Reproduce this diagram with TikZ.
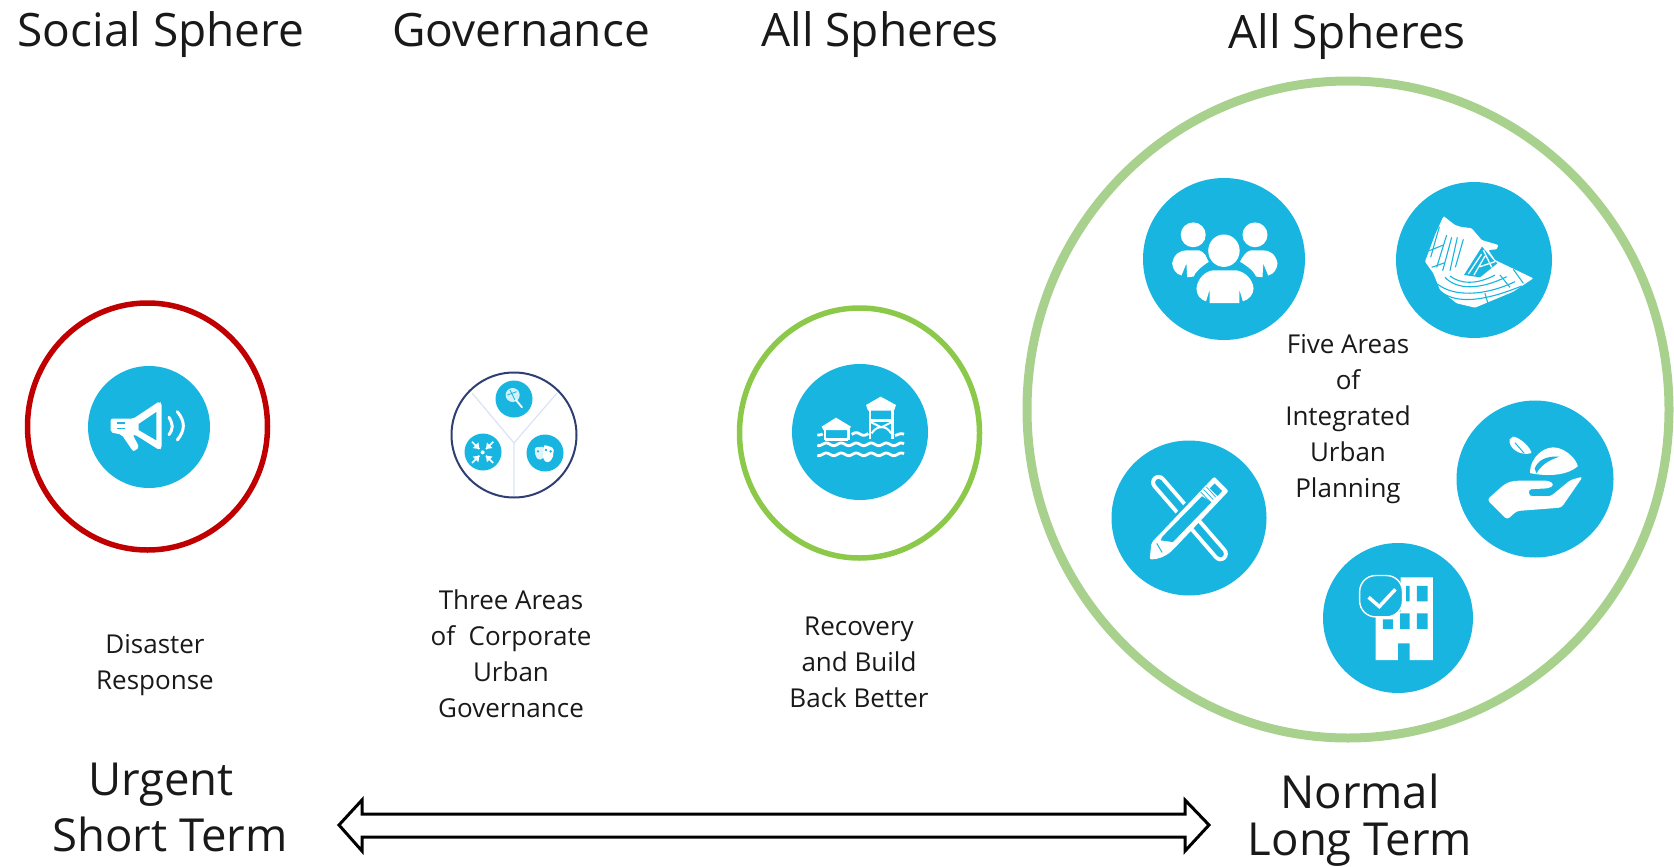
\documentclass[tikz,border=0pt]{standalone}
\usepackage{fontspec}
\setmainfont{Open Sans}
\usetikzlibrary{shapes.geometric}
\definecolor{skyb}{HTML}{17B5E0}
\definecolor{redr}{HTML}{C00000}
\definecolor{limeg}{HTML}{8CC94A}
\definecolor{paleg}{HTML}{A9D18E}
\definecolor{navyr}{HTML}{2F3F73}
\definecolor{palel}{HTML}{DAE3F3}
\tikzset{
 disc/.style={circle,fill=skyb,inner sep=0pt,minimum size=#1},
 ringc/.style={ellipse,draw=#1,line width=5.5pt,inner sep=0pt},
 headt/.style={font=\fontsize{46}{50}\selectfont,text=black!90,inner sep=0pt,anchor=base},
 smallt/.style={font=\fontsize{26}{36}\selectfont,align=center,text=black!90,inner sep=0pt},
 bigt/.style={font=\fontsize{45.5}{56.5}\selectfont,text=black!90,inner sep=0pt,anchor=base},
 zone/.style={shift={(1090,160)},x=0.35714pt,y=-0.34483pt},
 zoomt/.style={x=0.33333pt,y=-0.33333pt}
}
\begin{document}
\begin{tikzpicture}[x=1pt,y=-1pt]
\useasboundingbox (0,0) rectangle (1674,867);
% headers
\node[headt] (h1) at (161,47) {Social Sphere};
\node[headt] (h2) at (521,47) {Governance};
\node[headt] (h3) at (880,47) {All Spheres};
\node[headt] (h4) at (1347,49) {All Spheres};
% rings
\node[ringc=redr,minimum width=240pt,minimum height=247pt] (r1) at (147.5,426.5) {};
\node[ringc=limeg,minimum width=240pt,minimum height=250pt] (r3) at (859.5,433) {};
\node[ellipse,draw=paleg,line width=9pt,inner sep=0pt,minimum width=642pt,minimum height=657pt] (r4) at (1348,409.5) {};
% megaphone
\node[disc=122pt] (d1) at (149,427) {};
\begin{scope}[shift={(70,350)},zoomt]
 \fill[white,rounded corners=2pt] (122,206)--(190,206)--(268,154)--(275,160)--(275,295)--(268,300)--(195,254)--(188,254)--(208,292)--(190,305)--(155,254)--(122,247)--cycle;
 \fill[skyb] (206,222)--(259,186)--(259,271)--(206,240)--cycle;
 \draw[skyb,line width=1.2pt] (140,219)--(165,219) (140,235)--(165,235);
 \draw[white,line width=3pt,line cap=round] (297,202) .. controls (310,225) and (310,235) .. (297,254);
 \draw[white,line width=3pt,line cap=round] (322,185) .. controls (346,215) and (346,240) .. (322,270);
\end{scope}
% governance
\node[circle,draw=navyr,line width=2pt,inner sep=0pt,minimum size=125pt] (r2) at (514,435) {};
\coordinate (yc) at (514,443);
\coordinate (ya) at (472,393);
\coordinate (yb) at (557,393);
\coordinate (yd) at (514,496);
\draw[palel,line width=1.2pt] (ya)--(yc)--(yb) (yc)--(yd);
\node[disc=37pt] (s1) at (514,399) {};
\node[disc=37pt] (s2) at (483,452) {};
\node[disc=37pt] (s3) at (545,453) {};
\begin{scope}[shift={(420,350)},zoomt]
 \fill[white!80!skyb] (278,135) circle (7pt);
 \draw[skyb,line width=.8pt] (262,135)--(290,125) (270,120)--(285,150);
 \draw[white,line width=1.8pt,line cap=round] (288,150)--(306,172);
 \foreach \a in {45,135,225,315}{
  \draw[white,line width=1.6pt,shift={(188,307)}] (\a:14)--(\a:45);
  \fill[white,shift={(188,307)},rotate=\a] (14,0)--(30,-12)--(30,12)--cycle;
 }
 \fill[white] (188,307) circle (2pt);
 \fill[white!85!skyb,rounded corners=2pt] (344,292)--(372,290)--(372,322)--(358,332)--(346,318)--cycle;
 \fill[white,rounded corners=2pt] (372,284)--(402,294)--(398,326)--(382,340)--(368,326)--cycle;
 \fill[skyb] (378,300) circle (1.4pt) (392,304) circle (1.4pt) (354,304) circle (1.2pt);
\end{scope}
% flood
\node[disc=136pt] (d3) at (860,432) {};
\begin{scope}[shift={(770,350)},zoomt]
 \draw[white,line width=2.8pt] plot[domain=142:402,samples=70] (\x,{283+4*sin(\x*8)});
 \draw[white,line width=2.8pt] plot[domain=142:402,samples=70] (\x,{313+4*sin(\x*8)});
 \draw[white,line width=2.8pt] plot[domain=245:295,samples=20] (\x,{252+4*sin(\x*8)});
 \draw[white,line width=2.8pt] plot[domain=375:402,samples=12] (\x,{254+3*sin(\x*8)});
 \draw[white,line width=2.8pt] plot[domain=142:158,samples=8] (\x,{252+3*sin(\x*8)});
 \fill[white] (155,230)--(198,203)--(243,230)--(236,240)--(160,240)--cycle;
 \draw[white,line width=2.5pt] (165,238)--(165,270) (235,238)--(235,270) (165,268)--(235,268);
 \fill[white] (288,165)--(332,140)--(378,165)--(372,182)--(294,182)--cycle;
 \draw[white,line width=2.5pt] (300,178)--(300,266) (368,178)--(368,266) (300,212)--(368,212);
 \draw[white,line width=2pt] (300,215)--(334,232)--(368,215) (305,250) .. controls (320,225) and (350,225) .. (363,250);
\end{scope}
% five areas
\node[disc=162pt] (p1) at (1224,259) {};
\node[disc=156pt] (p2) at (1474,260) {};
\node[disc=157pt] (p3) at (1535,479) {};
\node[disc=155pt] (p4) at (1189,518) {};
\node[disc=150pt] (p5) at (1398,618) {};
% map
\begin{scope}[shift={(1400,180)},zoomt]
 \fill[white,rounded corners=1pt] (130,108)--(165,135)--(180,140)--(215,145)--(245,180)--(295,195)--(290,208)--(265,210)--(285,240)--(400,295)--(340,335)--(225,383)--(170,370)--(120,330)--(100,280)--(75,245)--(105,165)--cycle;
 \draw[skyb,line width=1.1pt] (118,140)--(92,232) (155,172)--(128,272) (172,172)--(150,272) (190,178)--(166,262) (140,165)--(110,262);
 \draw[skyb,line width=1.1pt] (88,212)--(130,195) (95,262)--(135,248);
 \draw[skyb,line width=1.1pt] (112,312) .. controls (160,350) and (250,350) .. (345,305);
 \draw[skyb,line width=1.1pt] (122,335) .. controls (170,372) and (250,365) .. (365,318);
 \draw[skyb,line width=1.1pt] (135,292) .. controls (170,330) and (240,330) .. (320,290);
 \draw[skyb,line width=1.1pt] (150,288) .. controls (180,312) and (230,315) .. (285,285);
 \fill[skyb] (192,285)--(246,200)--(280,240)--(292,250)--(240,292)--cycle;
 \draw[white,line width=1.3pt] (205,282)--(245,222) (222,285)--(255,228) (240,260)--(285,245) (250,210)--(275,262);
 \draw[skyb,line width=1.1pt] (255,340)--(265,375) (300,285)--(330,322) (340,268)--(370,310) (130,105)--(100,165);
\end{scope}
\begin{scope}[zone]
 % people
 \fill[white] (289,217) ellipse (35 and 36);
 \fill[white] (462,217) ellipse (35 and 36);
 \fill[white] (230,300) .. controls (235,270) and (255,262) .. (270,262) -- (305,262) .. controls (318,265) and (328,280) .. (333,295) .. controls (310,310) and (295,325) .. (290,338) -- (272,340) -- (270,300) -- (256,335) .. controls (240,330) and (232,318) .. (230,300) -- cycle;
 \fill[white] (525,300) .. controls (520,270) and (500,262) .. (485,262) -- (450,262) .. controls (437,265) and (427,280) .. (420,295) .. controls (445,310) and (460,325) .. (465,338) -- (483,340) -- (485,300) -- (499,335) .. controls (515,330) and (523,318) .. (525,300) -- cycle;
 \fill[skyb] (375,263) ellipse (52 and 54);
 \fill[white] (375,263) ellipse (44 and 47);
 \fill[white] (298,372) .. controls (302,340) and (325,322) .. (345,320) -- (410,320) .. controls (435,325) and (455,345) .. (458,372) .. controls (458,390) and (445,405) .. (428,410) -- (418,375) -- (418,415) -- (335,415) -- (335,375) -- (325,410) .. controls (308,405) and (298,390) .. (298,372) -- cycle;
 % plant
 \fill[white] (1232,908) .. controls (1232,860) and (1275,825) .. (1310,835) .. controls (1335,842) and (1360,865) .. (1366,888) .. controls (1340,912) and (1290,920) .. (1232,908) -- cycle;
 \fill[skyb] (1245,895) .. controls (1255,868) and (1280,858) .. (1315,860) .. controls (1295,868) and (1270,875) .. (1250,908) -- cycle;
 \fill[white] (1185,802) .. controls (1205,805) and (1235,835) .. (1236,850) .. controls (1205,860) and (1170,835) .. (1175,810) -- cycle;
 \draw[skyb,line width=1pt] (1190,820)--(1215,850);
 \fill[white,rounded corners=3pt] (1112,985) -- (1155,945) .. controls (1180,928) and (1200,930) .. (1225,930) -- (1285,930) -- (1300,942) -- (1285,952) -- (1228,955) -- (1230,975) -- (1290,975) -- (1345,928) -- (1380,918) -- (1320,1008) -- (1195,1018) -- (1168,1043) -- cycle;
 % pencil
 \draw[white,line width=15pt,line cap=round] (192,935)--(365,1142);
 \draw[skyb,line width=7pt,line cap=round] (192,935)--(365,1142);
 \draw[skyb,line width=22pt] (215,1100)--(350,950);
 \fill[white,rounded corners=2pt] (348,918)--(388,960)--(240,1122) .. controls (215,1150) and (190,1158) .. (167,1158) -- (172,1110) -- cycle;
 \fill[skyb] (349,938)--(370,960)--(232,1108)--(198,1103)--(202,1093)--cycle;
 \fill[white] (325,943)--(360,978)--(345,995)--(303,968)--cycle;
 \draw[skyb,line width=.7pt] (318,955)--(345,985) (326,948)--(352,978) (310,963)--(337,992);
 \draw[white,line width=1.2pt] (190,1105)--(205,1135);
 \draw[skyb,line width=1pt] (187,1112)--(202,1138);
 % building
 \fill[white] (800,1450)--(800,1310)--(870,1310)--(870,1210)--(960,1210)--(960,1450)--(895,1450)--(895,1402)--(862,1402)--(862,1450)--cycle;
 \fill[skyb] (885,1235) rectangle (895,1280) (915,1235) rectangle (945,1280) (820,1332) rectangle (848,1360) (868,1315) rectangle (895,1360) (915,1315) rectangle (945,1360);
 \draw[white,fill=skyb,line width=1.4pt,rounded corners=16pt] (755,1205) rectangle (875,1325);
 \draw[white,line width=3.5pt] (780,1268)--(810,1295)--(855,1245);
\end{scope}
% labels
\node[smallt] (t1) at (155,665) {Disaster\\Response};
\node[smallt] (t2) at (511,654) {Three Areas\\of~ Corporate\\Urban\\Governance};
\node[smallt] (t3) at (859,662) {Recovery\\and Build\\Back Better};
\node[smallt] (t4) at (1348,419) {Five Areas\\of\\Integrated\\Urban\\Planning};
\node[bigt] (b1a) at (161,795) {Urgent};
\node[bigt] (b1b) at (170,851) {Short Term};
\node[bigt] (b2a) at (1360,808) {Normal};
\node[bigt] (b2b) at (1360,855) {Long Term};
% double arrow
\draw[black,line width=3pt,miter limit=10] (339,825)--(362,800)--(362,814)--(1185,814)--(1185,800)--(1209,825)--(1185,851)--(1185,837)--(362,837)--(362,851)--cycle;
\end{tikzpicture}
\end{document}
